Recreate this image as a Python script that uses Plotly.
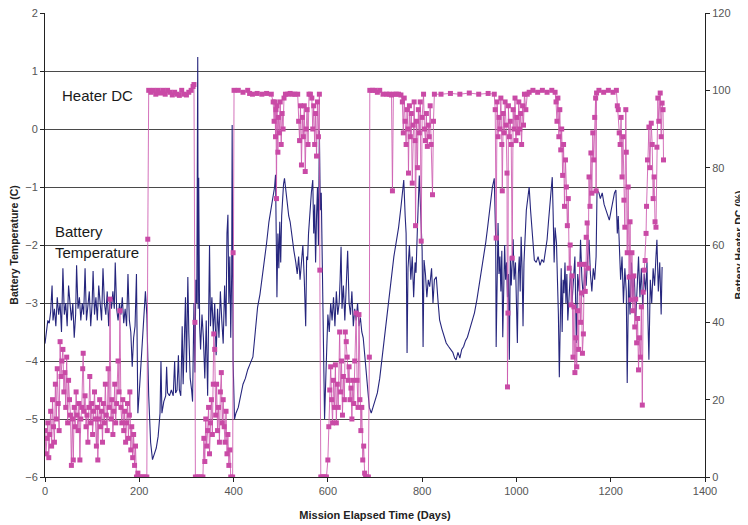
import plotly.graph_objects as go

# ---- Battery temperature (C) vs mission elapsed days ----
battery_temp_points = [
    (0, -3.7), (3, -3.5), (6, -3.3), (9, -3.35), (12, -3.15), (15, -2.7), (17, -3.3), (20, -3.1),
    (23, -3.4), (26, -2.9), (29, -3.2), (32, -3.0), (35, -3.5), (38, -2.4), (41, -3.2), (44, -3.0),
    (47, -3.4), (50, -2.7), (53, -3.1), (56, -3.3), (59, -3.0), (62, -3.6), (65, -3.2), (67, -2.35),
    (70, -3.1), (73, -2.9), (76, -3.3), (79, -3.0), (82, -3.2), (85, -2.4), (88, -3.3), (91, -3.1),
    (94, -2.8), (97, -3.4), (100, -3.0), (102, -2.45), (105, -3.2), (108, -2.9), (111, -3.3),
    (114, -2.7), (117, -3.1), (120, -3.3), (123, -2.4), (126, -3.0), (129, -3.2), (132, -2.8),
    (135, -3.4), (138, -2.9), (141, -3.1), (144, -2.8), (147, -3.1), (149, -2.3), (152, -3.1),
    (155, -3.3), (158, -3.0), (161, -3.2), (164, -2.9), (167, -3.35), (170, -3.1), (173, -3.4),
    (176, -2.5), (179, -3.3), (182, -3.5), (185, -4.1), (188, -3.6), (191, -3.4), (194, -2.5),
    (197, -4.9), (201, -4.4), (205, -3.9), (209, -3.3), (213, -2.8), (216, -3.2), (220, -4.6),
    (224, -5.4), (228, -5.7), (232, -5.6), (236, -5.5), (240, -5.3), (244, -4.9), (246, -4.0),
    (248, -4.9), (252, -4.7), (256, -4.6), (258, -4.1), (260, -4.55), (264, -4.6), (268, -4.5),
    (272, -4.6), (275, -4.0), (277, -4.55), (280, -4.5), (283, -3.9), (285, -4.5), (288, -4.6),
    (291, -3.4), (293, -4.4), (296, -3.6), (298, -2.9), (300, -4.2), (303, -2.55), (305, -3.5),
    (308, -4.3), (311, -4.5), (313, -4.7), (316, -3.0), (318, -4.2), (320, -2.6), (322, -3.0),
    (324, 1.24), (325, -3.1), (326, -0.84), (328, -3.4), (330, -3.8), (333, -3.2), (336, -3.6),
    (339, -4.3), (342, -3.3), (345, -4.6), (347, -2.9), (349, -2.0), (351, -3.4), (354, -2.9),
    (357, -3.5), (360, -3.0), (363, -3.9), (366, -3.1), (369, -3.6), (372, -2.8), (375, -3.3),
    (378, -3.7), (381, -2.7), (384, -3.4), (386, -1.8), (388, -1.48), (390, -3.0), (392, -2.2),
    (394, -3.6), (396, -2.5), (397, 0.07), (399, -4.0), (402, -5.0), (405, -4.9), (410, -4.8),
    (415, -4.6), (420, -4.4), (425, -4.3), (430, -4.15), (435, -4.05), (441, -3.93), (446, -3.5),
    (451, -3.07), (456, -2.85), (462, -2.5), (466, -2.2), (470, -1.97), (475, -1.6), (480, -1.35),
    (484, -1.15), (487, -1.0), (489, -0.79), (491, -1.9), (492, -2.9), (494, -1.8), (496, -2.4),
    (498, -1.6), (500, -2.3), (502, -1.5), (504, -1.2), (506, -0.95), (508, -0.85), (511, -1.1),
    (514, -1.3), (517, -1.5), (520, -1.6), (524, -1.9), (528, -2.1), (532, -2.3), (535, -2.5),
    (538, -2.2), (541, -2.6), (544, -2.3), (547, -2.0), (550, -2.6), (553, -3.4), (555, -2.2),
    (557, -2.26), (559, -1.8), (562, -1.4), (565, -1.1), (568, -0.88), (570, -1.8), (572, -1.3),
    (574, -2.3), (576, -1.5), (578, -1.0), (580, -2.0), (582, -0.03), (584, -1.4), (586, -1.1),
    (588, -2.2), (590, -3.5), (593, -5.0), (596, -4.2), (598, -3.4), (600, -3.2), (603, -3.5),
    (606, -3.0), (609, -3.3), (612, -2.9), (615, -3.4), (618, -2.8), (621, -3.2), (624, -3.0),
    (626, -2.6), (628, -2.03), (630, -3.1), (633, -2.7), (636, -3.3), (639, -2.78), (642, -2.1),
    (645, -3.0), (648, -3.2), (651, -2.8), (654, -3.4), (657, -3.1), (660, -3.3), (663, -3.0),
    (666, -3.4), (669, -3.25), (672, -3.5), (675, -3.6), (678, -3.9), (681, -4.2), (684, -4.5),
    (688, -4.8), (692, -4.9), (696, -4.8), (700, -4.7), (705, -4.55), (710, -4.3), (715, -3.95),
    (720, -3.6), (725, -3.3), (730, -2.9), (735, -2.5), (740, -2.2), (745, -1.95), (750, -1.7),
    (755, -1.35), (758, -1.1), (761, -0.88), (764, -1.5), (766, -1.8), (768, -3.86), (770, -2.4),
    (773, -2.0), (776, -2.6), (779, -2.2), (782, -2.9), (785, -2.3), (787, -2.48), (790, -1.7),
    (792, -1.2), (794, -0.8), (797, -1.45), (800, -2.1), (802, -3.76), (804, -2.26), (807, -2.5),
    (810, -2.9), (813, -2.6), (816, -2.72), (820, -2.4), (823, -3.0), (826, -2.6), (830, -2.55),
    (834, -3.0), (837, -3.29), (842, -3.45), (847, -3.6), (851, -3.69), (856, -3.75), (860, -3.8),
    (865, -3.85), (869, -3.95), (872, -3.98), (876, -3.85), (880, -3.95), (884, -3.8), (888, -3.75),
    (892, -3.65), (896, -3.59), (901, -3.45), (906, -3.3), (911, -3.17), (916, -2.95), (921, -2.7),
    (926, -2.48), (931, -2.2), (935, -1.95), (939, -1.69), (944, -1.35), (949, -1.0), (953, -0.85),
    (956, -1.9), (957, -3.76), (959, -2.3), (961, -1.62), (963, -2.5), (965, -2.2), (967, -2.8),
    (969, -2.1), (971, -3.59), (973, -2.4), (975, -2.0), (977, -2.6), (979, -2.3), (981, -2.9),
    (983, -2.5), (985, -3.98), (987, -2.2), (989, -2.7), (991, -2.4), (993, -1.9), (995, -2.6),
    (998, -2.3), (1000, -3.0), (1002, -3.69), (1004, -2.5), (1006, -2.2), (1008, -2.8),
    (1010, -1.86), (1012, -2.4), (1014, -3.4), (1016, -2.3), (1019, -1.6), (1021, -1.4),
    (1024, -1.2), (1027, -1.0), (1030, -1.4), (1034, -1.9), (1038, -2.26), (1042, -2.3),
    (1046, -2.2), (1050, -2.35), (1054, -2.25), (1058, -2.3), (1062, -2.1), (1065, -1.91),
    (1068, -1.6), (1071, -1.3), (1074, -1.0), (1076, -0.83), (1078, -1.5), (1080, -2.3),
    (1082, -1.7), (1085, -1.97), (1087, -2.6), (1089, -3.2), (1091, -4.28), (1093, -2.8),
    (1095, -2.4), (1097, -3.5), (1099, -2.6), (1101, -2.83), (1103, -2.3), (1105, -3.0),
    (1107, -2.5), (1109, -3.3), (1112, -2.83), (1115, -2.4), (1118, -3.0), (1121, -2.6),
    (1124, -2.2), (1127, -3.69), (1130, -2.5), (1133, -2.8), (1136, -1.91), (1139, -2.6),
    (1142, -2.9), (1145, -2.4), (1148, -2.7), (1151, -2.2), (1154, -1.91), (1157, -2.5),
    (1160, -2.8), (1163, -2.4), (1166, -2.6), (1169, -2.2), (1171, -1.05), (1175, -1.1),
    (1178, -1.2), (1182, -1.1), (1186, -1.3), (1190, -1.4), (1194, -1.5), (1197, -1.57),
    (1201, -1.4), (1205, -1.2), (1208, -1.1), (1211, -1.05), (1214, -1.8), (1216, -1.5),
    (1218, -2.03), (1221, -2.6), (1224, -2.2), (1227, -3.0), (1230, -2.4), (1233, -2.8),
    (1235, -4.38), (1238, -2.5), (1241, -3.2), (1244, -2.3), (1247, -2.9), (1250, -2.5),
    (1253, -3.29), (1256, -2.6), (1259, -2.2), (1262, -2.9), (1265, -2.4), (1268, -3.1),
    (1271, -2.5), (1274, -2.8), (1277, -2.3), (1279, -3.3), (1281, -3.98), (1284, -2.6),
    (1287, -3.0), (1290, -2.4), (1293, -2.7), (1296, -2.2), (1298, -1.91), (1301, -2.8),
    (1304, -2.3), (1307, -3.2), (1309, -2.38),
]

# ---- Battery heater duty cycle (%) vs mission elapsed days ----
heater_dc_points = [
    (0, 12), (2, 6), (4, 10), (6, 14), (8, 5), (10, 11), (12, 17), (14, 8), (16, 20), (18, 13),
    (20, 9), (22, 24), (24, 15), (26, 28), (28, 19), (30, 12), (32, 35), (34, 26), (36, 30),
    (38, 33), (40, 22), (42, 27), (44, 18), (46, 31), (48, 14), (50, 25), (52, 20), (54, 16),
    (56, 3), (58, 15), (60, 4.4), (62, 18), (64, 13), (66, 22), (68, 16), (70, 12), (72, 19),
    (74, 4.4), (76, 15), (78, 18), (80, 28), (81, 32), (83, 17), (85, 21), (87, 13), (89, 16),
    (91, 9), (93, 18), (95, 26), (97, 14), (99, 19), (101, 11), (103, 17), (105, 22), (107, 15),
    (109, 8), (111, 18), (112, 4.4), (114, 15), (116, 20), (118, 13), (120, 17), (122, 9),
    (124, 19), (126, 14), (128, 24), (130, 16), (132, 12), (134, 28), (136, 18), (138, 46),
    (140, 15), (142, 20), (144, 11), (146, 17), (148, 24), (150, 14), (152, 19), (155, 30),
    (157, 22), (159, 43), (161, 18), (163, 14), (165, 20), (167, 12), (169, 17), (171, 9),
    (173, 14), (175, 19), (177, 10), (179, 16), (180, 22), (182, 7), (184, 13), (186, 5),
    (188, 11), (190, 3), (192, 8), (194, 0), (197, 1), (200, 0), (204, 0), (208, 0), (212, 0),
    (216, 0), (218, 61.5), (220, 100), (225, 99.5), (230, 100), (235, 99), (240, 100),
    (245, 99.3), (250, 100), (255, 99), (260, 100), (265, 99.5), (270, 98.8), (275, 99.5),
    (280, 99), (285, 98.7), (290, 100), (295, 99), (300, 98.8), (305, 99.5), (310, 100),
    (314, 101), (316, 101.5), (318, 40), (319, 0), (323, 0), (327, 0), (331, 0), (335, 0),
    (337, 10), (339, 4), (341, 15), (343, 8), (345, 12), (347, 18), (349, 6), (351, 14),
    (353, 20), (355, 11), (357, 24), (358, 37), (360, 33), (362, 16), (364, 24), (366, 12),
    (368, 18), (370, 9), (372, 22), (374, 27), (376, 14), (378, 20), (380, 13), (382, 9),
    (384, 17), (386, 6), (388, 11), (390, 3), (392, 7), (394, 0), (398, 0), (399, 58),
    (401, 100), (410, 100), (420, 99.5), (430, 100), (434, 99.2), (440, 99), (450, 99.2),
    (460, 99), (470, 99.2), (480, 99), (484, 97), (486, 92), (488, 97), (489, 88), (490, 95),
    (491, 72), (492, 96), (494, 84), (495, 93), (497, 89), (499, 97), (501, 86), (503, 94),
    (505, 90), (507, 98), (510, 99), (515, 99), (520, 99.2), (525, 99), (530, 99), (536, 99),
    (538, 92), (540, 87), (542, 96), (544, 80.7), (546, 93), (548, 88), (550, 96), (552, 79),
    (554, 90), (556, 95), (558, 86), (560, 99), (563, 99), (566, 98), (568, 90), (570, 96),
    (572, 86), (574, 94), (576, 83), (578, 97), (580, 88), (582, 99), (583, 53.5), (585, 0),
    (588, 0), (591, 0), (594, 0), (597, 0), (600, 4.4), (602, 13), (604, 22.5), (606, 28.5),
    (608, 20), (610, 14), (612, 25), (614, 18), (616, 29), (618, 14), (620, 24), (622, 18),
    (625, 37.5), (627, 22), (629, 30), (631, 16), (633, 26), (635, 20), (637, 37.5), (639, 35),
    (641, 31), (643, 25), (645, 28.5), (647, 20), (649, 23), (651, 15), (653, 25), (655, 19),
    (657, 30), (660, 42.4), (662, 25), (664, 18), (666, 42), (668, 20), (670, 12), (672, 18),
    (674, 4.4), (676, 8), (678, 1), (680, 0), (683, 0), (686, 0), (688, 31), (689, 100),
    (695, 100), (700, 100), (705, 99.5), (710, 100), (717, 99), (725, 99), (730, 99),
    (735, 98.8), (737, 74), (739, 99), (745, 99), (750, 99), (755, 98.8), (758, 97), (760, 89),
    (762, 98), (764, 92), (766, 86), (768, 95), (770, 90), (771, 78.6), (773, 96), (775, 88),
    (777, 94), (779, 76), (781, 91), (783, 97), (785, 87), (786, 65), (788, 92), (790, 80),
    (792, 95), (794, 89), (796, 97), (798, 61), (800, 93), (803, 99), (805, 90), (807, 87),
    (809, 94), (811, 85.5), (813, 91), (815, 88), (817, 96), (819, 86), (822, 73), (824, 92),
    (826, 99), (840, 99), (860, 99.2), (880, 99), (900, 99.3), (920, 99), (940, 99.2),
    (953, 99), (955, 95), (957, 61.8), (959, 97), (961, 88), (963, 93), (965, 90), (967, 98),
    (969, 86), (970, 74), (972, 94), (974, 89), (976, 97), (978, 91), (980, 78.6), (981, 23.3),
    (982, 42.4), (983, 96), (985, 88), (987, 92), (989, 86), (991, 56.6), (993, 95), (995, 90),
    (997, 98), (999, 87), (1001, 93), (1003, 89), (1005, 97), (1007, 90), (1009, 94),
    (1011, 86), (1013, 96), (1015, 91), (1017, 99), (1020, 95), (1023, 99), (1027, 99.5),
    (1035, 100), (1045, 99.5), (1055, 100), (1065, 99.5), (1075, 100), (1082, 99.5),
    (1084, 97), (1086, 92), (1088, 98), (1090, 88), (1092, 95), (1094, 84.6), (1096, 90),
    (1098, 78), (1100, 86), (1102, 70), (1104, 82), (1106, 75), (1108, 65), (1110, 72),
    (1112, 54), (1114, 60), (1116, 44.5), (1118, 52), (1120, 31), (1122, 44), (1124, 27),
    (1126, 36), (1128, 28.5), (1130, 43), (1132, 33), (1134, 55), (1136, 40), (1138, 47.6),
    (1140, 32), (1142, 37), (1144, 55), (1146, 48), (1148, 62), (1150, 65.7), (1152, 54),
    (1154, 77.6), (1156, 70), (1158, 83.8), (1160, 73.4), (1162, 89), (1164, 82), (1166, 93),
    (1168, 98), (1169, 74), (1170, 99.3), (1175, 100), (1185, 99.5), (1195, 100),
    (1205, 99.5), (1212, 100), (1214, 96), (1216, 95), (1218, 89), (1220, 86), (1222, 93),
    (1224, 77.6), (1226, 88), (1228, 71.6), (1230, 64.6), (1232, 95), (1233, 84), (1235, 58),
    (1237, 75), (1239, 51.7), (1241, 66), (1243, 45.8), (1245, 58), (1247, 43), (1249, 52),
    (1251, 38.8), (1253, 46), (1255, 34.7), (1257, 41), (1259, 27.7), (1261, 36), (1263, 31),
    (1265, 44), (1267, 18.6), (1269, 47.8), (1271, 53.5), (1273, 56), (1275, 63), (1276, 70),
    (1278, 82), (1281, 90.5), (1283, 80), (1286, 91.5), (1288, 86), (1290, 72), (1292, 77.6),
    (1294, 66), (1296, 64.6), (1298, 85.3), (1300, 98), (1302, 92), (1305, 99.3), (1307, 88),
    (1309, 96.7), (1311, 95), (1312, 82),
]

temp_days = [p[0] for p in battery_temp_points]
temp_values = [p[1] for p in battery_temp_points]
dc_days = [p[0] for p in heater_dc_points]
dc_values = [p[1] for p in heater_dc_points]

x_ticks = [0, 200, 400, 600, 800, 1000, 1200, 1400]
left_ticks = [-6, -5, -4, -3, -2, -1, 0, 1, 2]
right_ticks = [0, 20, 40, 60, 80, 100, 120]

FONT = "Liberation Sans, Arial, sans-serif"
NAVY = "rgb(38,38,125)"
MAGENTA = "#c94aa6"

fig = go.Figure()
fig.add_trace(go.Scatter(
    x=temp_days, y=temp_values, mode="lines",
    line=dict(color=NAVY, width=1.1), name="Battery Temperature",
    yaxis="y", showlegend=False,
))
fig.add_trace(go.Scatter(
    x=dc_days, y=dc_values, mode="lines+markers",
    line=dict(color="rgba(205,90,175,0.85)", width=1),
    marker=dict(symbol="square", size=5, color=MAGENTA, line=dict(width=0)),
    name="Heater DC", yaxis="y2", showlegend=False,
))

axis_font = dict(family=FONT, size=11, color="#555555")
title_font_y = dict(family=FONT, size=10.5, color="#222222")

# The page body adds an 8px offset, so the figure is 8px smaller on each axis.
fig.update_layout(
    width=740, height=517,
    margin=dict(l=37, r=43, t=5, b=48, autoexpand=False),
    paper_bgcolor="white", plot_bgcolor="white",
    font=dict(family=FONT),
    xaxis=dict(
        range=[0, 1400], tickvals=x_ticks, showgrid=False, zeroline=False,
        showline=True, linecolor="#222222", linewidth=1, automargin=False,
        ticks="outside", ticklen=4, tickcolor="#222222",
        tickfont=axis_font, ticklabeloverflow="allow",
        title=dict(text="<b>Mission Elapsed Time (Days)</b>",
                   font=dict(family=FONT, size=11, color="#222222"), standoff=15),
    ),
    yaxis=dict(
        range=[-6, 2], tickvals=left_ticks, showgrid=True, gridcolor="#4a4a4a",
        gridwidth=1.2, zeroline=False, automargin=False,
        showline=True, linecolor="#222222", linewidth=1,
        ticks="outside", ticklen=4, tickcolor="#222222",
        tickfont=axis_font, ticklabeloverflow="allow",
        title=dict(text="<b>Battery Temperature (C)</b>", font=title_font_y, standoff=5),
    ),
    yaxis2=dict(
        range=[0, 120], tickvals=right_ticks, overlaying="y", side="right",
        showgrid=False, zeroline=False, automargin=False,
        showline=True, linecolor="#222222", linewidth=1,
        ticks="outside", ticklen=4, tickcolor="#222222",
        tickfont=axis_font, ticklabeloverflow="allow",
        title=dict(text="<b>Battery Heater DC (%)</b>", font=title_font_y, standoff=6),
    ),
    annotations=[
        dict(text="Heater DC", xref="paper", yref="paper", x=0.023, y=0.822,
             xanchor="left", yanchor="middle", showarrow=False,
             font=dict(family=FONT, size=15, color="#1a1a1a")),
        dict(text="Battery", xref="paper", yref="paper", x=0.012, y=0.530,
             xanchor="left", yanchor="middle", showarrow=False,
             font=dict(family=FONT, size=15, color="#1a1a1a")),
        dict(text="Temperature", xref="paper", yref="paper", x=0.012, y=0.484,
             xanchor="left", yanchor="middle", showarrow=False,
             font=dict(family=FONT, size=15, color="#1a1a1a")),
    ],
)

fig.write_html("out.html")
